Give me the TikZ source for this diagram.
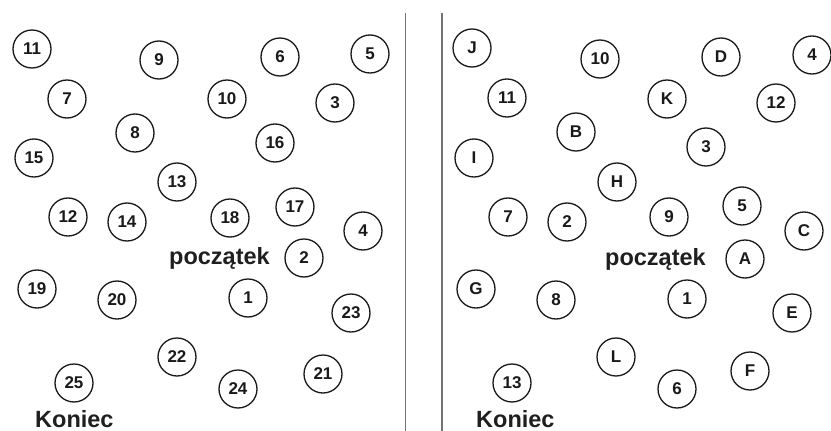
\documentclass[tikz,border=0pt]{standalone}
\usepackage{fontspec}
\setmainfont{Liberation Sans}
\begin{document}
\begin{tikzpicture}[x=1pt,y=-1pt,
  dot/.style={circle,draw=black!90,line width=1.3pt,minimum size=38pt,inner sep=0pt,
    text=black!90,font=\bfseries\fontsize{17}{17}\selectfont},
  lbl/.style={anchor=base west,inner sep=0pt,text=black!88,
    font=\bfseries\fontsize{23.5}{24}\selectfont},
  divider/.style={draw=black!55,line width=1.8pt}]
\useasboundingbox (0,0) rectangle (831,431);
% left panel
\node[dot] (l11) at (32,49) {11};
\node[dot] (l9) at (159,60) {9};
\node[dot] (l6) at (280,57) {6};
\node[dot] (l5) at (370,54) {5};
\node[dot] (l7) at (67,99) {7};
\node[dot] (l10) at (227,99) {10};
\node[dot] (l3) at (335,103) {3};
\node[dot] (l8) at (135,133) {8};
\node[dot] (l16) at (275,143) {16};
\node[dot] (l15) at (34,158) {15};
\node[dot] (l13) at (177,182) {13};
\node[dot] (l17) at (295,207) {17};
\node[dot] (l12) at (68,217) {12};
\node[dot] (l14) at (127,222) {14};
\node[dot] (l18) at (230,218) {18};
\node[dot] (l4) at (363,231) {4};
\node[dot] (l2) at (304,258) {2};
\node[dot] (l19) at (37,289) {19};
\node[dot] (l20) at (117,300) {20};
\node[dot] (l1) at (248,298) {1};
\node[dot] (l23) at (351,313) {23};
\node[dot] (l22) at (177,357) {22};
\node[dot] (l25) at (74,383) {25};
\node[dot] (l24) at (238,389) {24};
\node[dot] (l21) at (323,374) {21};
\node[lbl] (lstart) at (169,264) {początek};
\node[lbl] (lend) at (35,427) {Koniec};
% dividers
\coordinate (d1t) at (405.5,13);
\coordinate (d1b) at (405.5,431);
\coordinate (d2t) at (442,13);
\coordinate (d2b) at (442,431);
\draw[divider] (d1t) -- (d1b);
\draw[divider] (d2t) -- (d2b);
% right panel
\node[dot] (rJ) at (472,48) {J};
\node[dot] (r10) at (600,59) {10};
\node[dot] (rD) at (721,57) {D};
\node[dot] (r4) at (812,55) {4};
\node[dot] (r11) at (507,98) {11};
\node[dot] (rK) at (667,99) {K};
\node[dot] (r12) at (776,103) {12};
\node[dot] (rB) at (576,132) {B};
\node[dot] (r3) at (706,147) {3};
\node[dot] (rI) at (474,158) {I};
\node[dot] (rH) at (617,182) {H};
\node[dot] (r7) at (508,217) {7};
\node[dot] (r2) at (567,222) {2};
\node[dot] (r9) at (669,217) {9};
\node[dot] (r5) at (742,206) {5};
\node[dot] (rC) at (804,231) {C};
\node[dot] (rA) at (745,259) {A};
\node[dot] (rG) at (476,289) {G};
\node[dot] (r8) at (556,300) {8};
\node[dot] (r1) at (687,299) {1};
\node[dot] (rE) at (792,313) {E};
\node[dot] (rL) at (616,357) {L};
\node[dot] (r13) at (512,383) {13};
\node[dot] (r6) at (677,389) {6};
\node[dot] (rF) at (750,371) {F};
\node[lbl] (rstart) at (605,265) {początek};
\node[lbl] (rend) at (476,427) {Koniec};
\end{tikzpicture}
\end{document}
